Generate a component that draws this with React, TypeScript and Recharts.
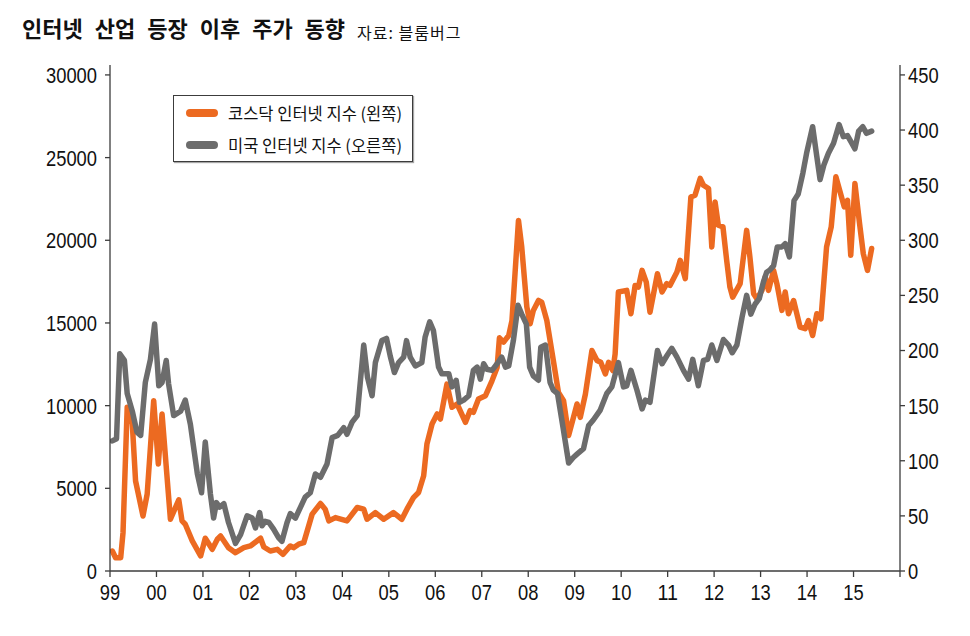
import React from 'react'
import { LineChart, Line, XAxis, YAxis } from 'recharts'

const W = 970
const H = 636
const ORANGE = '#EC6A21'
const GRAY = '#6C6C6C'
const AXIS = '#3C3C3C'
const KR_FONT = '"Noto Sans CJK KR", "Noto Sans", sans-serif'
const NUM_FONT = '"Liberation Sans Narrow", "Liberation Sans", Arial, sans-serif'

// x ticks: 99 .. 15 (plus the unlabeled right edge at 16)
const yearTicks = [1999, 2000, 2001, 2002, 2003, 2004, 2005, 2006, 2007, 2008, 2009, 2010, 2011, 2012, 2013, 2014, 2015, 2016]
const leftTicks = [0, 5000, 10000, 15000, 20000, 25000, 30000]
const rightTicks = [0, 50, 100, 150, 200, 250, 300, 350, 400, 450]

// 코스닥 인터넷 지수 (left axis)
const kosdaqDates = [
  1999.05, 1999.12, 1999.23, 1999.28, 1999.37, 1999.48, 1999.55, 1999.71, 1999.80, 1999.94,
  2000.04, 2000.12, 2000.30, 2000.48, 2000.55, 2000.62, 2000.77, 2000.95, 2001.05, 2001.20,
  2001.31, 2001.38, 2001.55, 2001.70, 2001.88, 2002.02, 2002.24, 2002.31, 2002.45, 2002.60,
  2002.72, 2002.88, 2002.95, 2003.06, 2003.17, 2003.35, 2003.53, 2003.63, 2003.71, 2003.85,
  2004.10, 2004.32, 2004.46, 2004.53, 2004.71, 2004.89, 2005.10, 2005.28, 2005.39, 2005.53,
  2005.64, 2005.75, 2005.82, 2005.93, 2006.04, 2006.11, 2006.25, 2006.36, 2006.47, 2006.65,
  2006.75, 2006.82, 2006.93, 2007.08, 2007.22, 2007.33, 2007.38, 2007.47, 2007.58, 2007.65,
  2007.79, 2007.86, 2007.97, 2008.04, 2008.11, 2008.22, 2008.29, 2008.40, 2008.54, 2008.65,
  2008.76, 2008.87, 2009.05, 2009.12, 2009.23, 2009.37, 2009.48, 2009.56, 2009.66, 2009.73,
  2009.82, 2009.87, 2009.94, 2010.12, 2010.21, 2010.30, 2010.37, 2010.45, 2010.54, 2010.62,
  2010.78, 2010.88, 2010.98, 2011.05, 2011.20, 2011.27, 2011.38, 2011.50, 2011.59, 2011.70,
  2011.77, 2011.88, 2011.95, 2012.02, 2012.09, 2012.19, 2012.27, 2012.34, 2012.40, 2012.56,
  2012.70, 2012.77, 2012.85, 2012.92, 2013.03, 2013.10, 2013.17, 2013.28, 2013.35, 2013.46,
  2013.53, 2013.60, 2013.71, 2013.85, 2013.96, 2014.03, 2014.12, 2014.21, 2014.30, 2014.42,
  2014.52, 2014.62, 2014.71, 2014.80, 2014.87, 2014.94, 2015.03, 2015.13, 2015.21, 2015.30,
  2015.39,
]
const kosdaqValues = [
  1210, 800, 800, 2320, 9900, 8900, 5450, 3330, 4650, 10300,
  6470, 9500, 3130, 4300, 3030, 2830, 1820, 910, 1980, 1310,
  1920, 2120, 1410, 1110, 1410, 1515, 1980, 1450, 1210, 1310,
  1010, 1515, 1410, 1620, 1715, 3440, 4080, 3740, 3030, 3230,
  3030, 3840, 3740, 3130, 3530, 3130, 3530, 3130, 3740, 4440,
  4750, 5760, 7680, 8890, 9500, 9190, 11300, 9900, 10100, 8990,
  9700, 9600, 10400, 10600, 11500, 12300, 14100, 13840, 14240, 15150,
  21200, 19600, 15960, 14950, 15760, 16360, 16260, 15150, 12730, 10800,
  10300, 8200, 10100, 9290, 10700, 13330, 12730, 12620, 11920, 12620,
  12120, 13130, 16870, 16970, 15560, 17270, 17170, 18180, 17470, 15650,
  17980, 16870, 17380, 17270, 18080, 18790, 17680, 22620, 22730, 23740,
  23330, 23130, 19600, 22320, 20910, 20810, 18790, 17170, 16560, 17380,
  20600, 18990, 16770, 16460, 16970, 17780, 16970, 18180, 17380, 15760,
  16870, 15560, 16360, 14750, 14650, 15150, 14240, 15560, 15250, 19600,
  20810, 23840, 22930, 22020, 22420, 19090, 23430, 21010, 19190, 18180,
  19500,
]

// 미국 인터넷 지수 (right axis)
const usDates = [
  1999.05, 1999.14, 1999.21, 1999.31, 1999.37, 1999.48, 1999.58, 1999.66, 1999.76, 1999.87,
  1999.96, 2000.05, 2000.12, 2000.21, 2000.26, 2000.37, 2000.52, 2000.62, 2000.73, 2000.88,
  2000.97, 2001.05, 2001.16, 2001.23, 2001.29, 2001.36, 2001.45, 2001.55, 2001.70, 2001.81,
  2001.95, 2002.06, 2002.13, 2002.22, 2002.27, 2002.34, 2002.42, 2002.52, 2002.63, 2002.70,
  2002.81, 2002.88, 2002.99, 2003.10, 2003.20, 2003.31, 2003.42, 2003.53, 2003.67, 2003.78,
  2003.90, 2004.03, 2004.10, 2004.21, 2004.32, 2004.46, 2004.54, 2004.64, 2004.71, 2004.85,
  2004.95, 2005.03, 2005.12, 2005.21, 2005.32, 2005.38, 2005.46, 2005.57, 2005.71, 2005.78,
  2005.88, 2005.96, 2006.07, 2006.14, 2006.29, 2006.36, 2006.45, 2006.52, 2006.61, 2006.72,
  2006.82, 2006.90, 2006.97, 2007.04, 2007.11, 2007.22, 2007.33, 2007.43, 2007.51, 2007.58,
  2007.68, 2007.78, 2007.86, 2007.96, 2008.03, 2008.11, 2008.22, 2008.27, 2008.37, 2008.47,
  2008.54, 2008.63, 2008.75, 2008.87, 2008.97, 2009.05, 2009.19, 2009.30, 2009.40, 2009.55,
  2009.69, 2009.80, 2009.94, 2010.05, 2010.12, 2010.21, 2010.34, 2010.45, 2010.52, 2010.62,
  2010.78, 2010.88, 2010.98, 2011.09, 2011.20, 2011.34, 2011.45, 2011.54, 2011.66, 2011.77,
  2011.86, 2011.95, 2012.06, 2012.20, 2012.31, 2012.39, 2012.49, 2012.60, 2012.70, 2012.79,
  2012.88, 2012.97, 2013.06, 2013.13, 2013.20, 2013.28, 2013.36, 2013.46, 2013.53, 2013.62,
  2013.72, 2013.81, 2013.91, 2013.99, 2014.12, 2014.21, 2014.28, 2014.36, 2014.46, 2014.57,
  2014.69, 2014.78, 2014.87, 2014.95, 2015.03, 2015.11, 2015.20, 2015.28, 2015.39,
]
const usValues = [
  118, 120, 197, 191, 161, 145, 126, 123, 171, 192,
  224, 168, 171, 191, 170, 141, 145, 155, 133, 88,
  71, 117, 70, 48, 62, 58, 61, 44, 25, 33,
  50, 48, 39, 53, 41, 45, 44, 38, 30, 27,
  44, 52, 48, 58, 67, 71, 88, 85, 97, 121,
  123, 130, 124, 135, 141, 205, 176, 159, 189, 209,
  211, 195, 180, 189, 194, 209, 194, 186, 189, 212,
  226, 218, 185, 179, 179, 167, 173, 153, 155, 159,
  182, 185, 174, 188, 183, 182, 188, 194, 185, 186,
  209, 241, 233, 224, 185, 177, 173, 203, 205, 171,
  164, 161, 130, 98, 103, 106, 111, 132, 137, 146,
  161, 167, 189, 167, 168, 182, 164, 147, 155, 153,
  200, 188, 195, 202, 194, 182, 174, 192, 168, 191,
  192, 205, 191, 210, 205, 198, 205, 230, 250, 233,
  242, 247, 262, 271, 273, 277, 294, 294, 297, 285,
  336, 342, 361, 379, 403, 376, 355, 368, 379, 388,
  405, 394, 395, 389, 383, 399, 403, 397, 399,
]

const kosdaqData = kosdaqDates.map((t, i) => ({ t, v: kosdaqValues[i] }))
const usData = usDates.map((t, i) => ({ t, v: usValues[i] }))

const SERIES = [
  { name: '코스닥 인터넷 지수 (왼쪽)', color: ORANGE },
  { name: '미국 인터넷 지수 (오른쪽)', color: GRAY },
]

// condensed digits, roughly Arial Narrow look
const DIGIT_W = 10.2

const NumTick = ({ x, y, label, anchor, dy }: any) => {
  if (!label) return null
  return (
    <text
      x={x}
      y={y}
      dy={dy}
      textAnchor={anchor}
      fontFamily={NUM_FONT}
      fontSize={22}
      fill="#111"
      textLength={label.length * DIGIT_W}
      lengthAdjust="spacingAndGlyphs"
    >
      {label}
    </text>
  )
}

const LegendBox = () => (
  <div
    style={{
      position: 'absolute',
      left: 173,
      top: 95,
      width: 240,
      height: 67,
      boxSizing: 'border-box',
      border: `1.5px solid ${AXIS}`,
      boxShadow: '1px 1px 1px rgba(0,0,0,0.35)',
      background: '#fff',
    }}
  >
    {SERIES.map((s, i) => (
      <div
        key={s.name}
        style={{ position: 'absolute', left: 12, top: 8 + i * 31.6, height: 18, display: 'flex', alignItems: 'center' }}
      >
        <div style={{ width: 32, height: 8, borderRadius: 4, background: s.color }} />
        <span style={{ marginLeft: 10, fontFamily: KR_FONT, fontSize: 16.5, color: '#111', whiteSpace: 'nowrap' }}>
          {s.name}
        </span>
      </div>
    ))}
  </div>
)

export default function App() {
  return (
    <div style={{ position: 'absolute', left: 0, top: 0, width: W, height: H, background: '#fff' }}>
      <svg width={W} height={60} style={{ position: 'absolute', left: 0, top: 0 }}>
        <text x={22} y={37} fontFamily={KR_FONT} fontWeight={700} fontSize={22} wordSpacing={7} fill="#111">
          인터넷 산업 등장 이후 주가 동향
        </text>
        <text x={357} y={39} fontFamily={KR_FONT} fontSize={16} letterSpacing={1} fill="#111">
          자료: 블룸버그
        </text>
      </svg>

      <LineChart
        width={W}
        height={H}
        margin={{ top: 65, right: 0, bottom: 35, left: 0 }}
        style={{ position: 'absolute', left: 0, top: 0 }}
      >
        <XAxis
          dataKey="t"
          type="number"
          domain={[1999, 2016]}
          ticks={yearTicks}
          allowDataOverflow
          height={30}
          stroke={AXIS}
          strokeWidth={1.3}
          tickSize={6}
          tickMargin={7}
          tick={(p: any) => {
            const yr = p.payload.value
            const label = yr === 2016 ? '' : String(yr % 100).padStart(2, '0')
            return <NumTick key={`x-${yr}`} x={p.x} y={p.y} label={label} anchor="middle" dy="0.71em" />
          }}
        />
        <YAxis
          yAxisId="left"
          orientation="left"
          width={110}
          domain={[0, 30600]}
          ticks={leftTicks}
          allowDataOverflow
          stroke={AXIS}
          strokeWidth={1.3}
          tickSize={5}
          tickMargin={8}
          tick={(p: any) => (
            <NumTick key={`l-${p.payload.value}`} x={p.x} y={p.y} label={String(p.payload.value)} anchor="end" dy="0.36em" />
          )}
        />
        <YAxis
          yAxisId="right"
          orientation="right"
          width={70}
          domain={[0, 459]}
          ticks={rightTicks}
          allowDataOverflow
          stroke={AXIS}
          strokeWidth={1.3}
          tickSize={5}
          tickMargin={3}
          tick={(p: any) => (
            <NumTick key={`r-${p.payload.value}`} x={p.x} y={p.y} label={String(p.payload.value)} anchor="start" dy="0.36em" />
          )}
        />
        <Line
          yAxisId="left"
          data={kosdaqData}
          dataKey="v"
          name={SERIES[0].name}
          stroke={ORANGE}
          strokeWidth={5.5}
          strokeLinejoin="round"
          strokeLinecap="round"
          dot={false}
          activeDot={false}
          type="linear"
          isAnimationActive={false}
        />
        <Line
          yAxisId="right"
          data={usData}
          dataKey="v"
          name={SERIES[1].name}
          stroke={GRAY}
          strokeWidth={5.5}
          strokeLinejoin="round"
          strokeLinecap="round"
          dot={false}
          activeDot={false}
          type="linear"
          isAnimationActive={false}
        />
      </LineChart>
      <LegendBox />
    </div>
  )
}
